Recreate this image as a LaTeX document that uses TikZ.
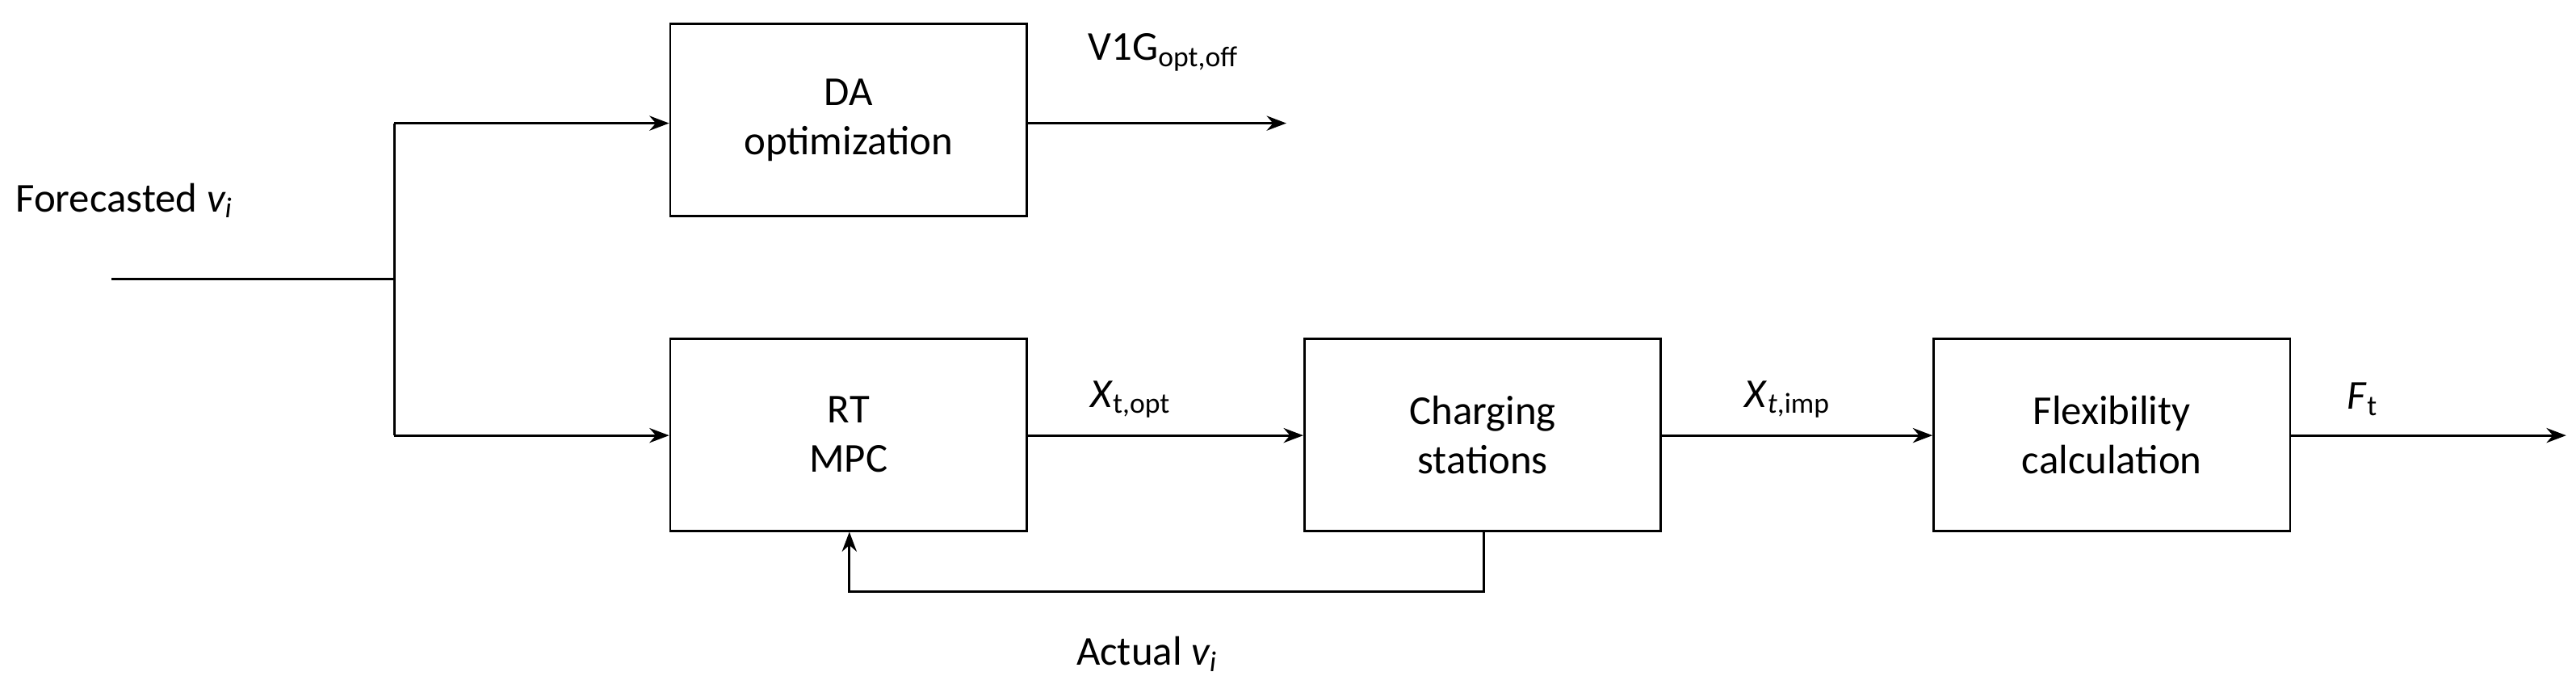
\documentclass[tikz,border=0pt]{standalone}
\usepackage{fontspec}
\setmainfont{Carlito}
\usetikzlibrary{arrows.meta}
\begin{document}
\begin{tikzpicture}[x=1pt,y=-1pt,
  box/.style={draw,line width=1.4pt,minimum width=217pt,minimum height=117pt,align=center,font=\fontsize{25}{30}\selectfont},
  lbl/.style={font=\fontsize{25}{30}\selectfont},
  arr/.style={line width=1.4pt,-{Stealth[length=12pt,width=9pt]}},
  ln/.style={line width=1.4pt}]
\useasboundingbox (0,0) rectangle (1568,424);
\node[box] (da) at (516.5,73) {DA\\optimization};
\node[box] (rt) at (516.5,264.5) {RT\\MPC};
\node[box] (cs) at (902.5,264.5) {Charging\\stations};
\node[box] (fc) at (1285.5,264.5) {Flexibility\\calculation};
\coordinate (in) at (68,170);
\coordinate (j) at (240,170);
\coordinate (jt) at (240,75);
\coordinate (jb) at (240,265);
\coordinate (dao) at (783,75);
\coordinate (fo) at (1562,265);
\coordinate (fb1) at (903,360);
\coordinate (fb2) at (517,360);
\node[lbl,anchor=west] (fl) at (6,122) {Forecasted \textit{v\textsubscript{i}}};
\draw[ln] (in) -- (j);
\draw[ln] (jt) -- (jb);
\draw[arr] (jt) -- (jt -| da.west);
\draw[arr] (jb) -- (jb -| rt.west);
\draw[arr] (da.east |- dao) -- (dao);
\node[lbl] (v1g) at (708,32) {V1G\textsubscript{opt,off}};
\draw[arr] (rt.east |- jb) -- (cs.west |- jb);
\node[lbl] (xo) at (688,243) {\textit{X}\textsubscript{t,opt}};
\draw[arr] (cs.east |- jb) -- (fc.west |- jb);
\node[lbl] (xi) at (1088,243) {\textit{X}\textsubscript{\textit{t},imp}};
\draw[arr] (fc.east |- jb) -- (fo);
\node[lbl] (ft) at (1438,243) {\textit{F}\textsubscript{t}};
\draw[arr] (cs.south -| fb1) -- (fb1) -- (fb2) -- (rt.south -| fb2);
\node[lbl] (av) at (698,398) {Actual \textit{v\textsubscript{i}}};
\end{tikzpicture}
\end{document}
